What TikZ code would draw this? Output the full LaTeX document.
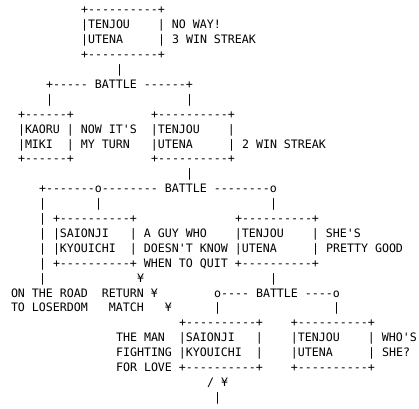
\documentclass[tikz,border=0pt]{standalone}
\usepackage{fontspec}
\usepackage{tikz}
\setmonofont{DejaVu Sans Mono}[Ligatures=TeXOff]
\definecolor{ink}{RGB}{0,0,0}
\newcommand\aafont{\ttfamily\fontsize{11.627pt}{14.9pt}\selectfont\frenchspacing}

\begin{document}
\begin{tikzpicture}[x=7pt,y=-14.9pt,
  every node/.style={anchor=base west,inner sep=0pt,text=ink,font=\aafont}]
  \useasboundingbox (-10.8pt,-1pt) rectangle (408.2pt,-409pt);
  \foreach \c/\t [count=\r] in {
    10/{+----------+},
    10/{|TENJOU~~~~|~NO~WAY!},
    10/{|UTENA~~~~~|~3~WIN~STREAK},
    10/{+----------+},
    15/{|},
    5/{+-----~BATTLE~------+},
    5/{|~~~~~~~~~~~~~~~~~~~|},
    1/{+------+~~~~~~~~~~~+----------+},
    1/{|KAORU~|~NOW~IT'S~~|TENJOU~~~~|},
    1/{|MIKI~~|~MY~TURN~~~|UTENA~~~~~|~2~WIN~STREAK},
    1/{+------+~~~~~~~~~~~+----------+},
    25/{|},
    4/{+-------o--------~BATTLE~--------o},
    4/{|~~~~~~~|~~~~~~~~~~~~~~~~~~~~~~~~|},
    4/{|~+----------+~~~~~~~~~~~~~~+----------+},
    4/{|~|SAIONJI~~~|~A~GUY~WHO~~~~|TENJOU~~~~|~SHE'S},
    4/{|~|KYOUICHI~~|~DOESN'T~KNOW~|UTENA~~~~~|~PRETTY~GOOD},
    4/{|~+----------+~WHEN~TO~QUIT~+----------+},
    4/{|~~~~~~~~~~~~~¥~~~~~~~~~~~~~~~~~~|},
    0/{ON~THE~ROAD~~RETURN~¥~~~~~~~~o----~BATTLE~----o},
    0/{TO~LOSERDOM~~~MATCH~~~¥~~~~~~|~~~~~~~~~~~~~~~~|},
    24/{+----------+~~~~+----------+},
    15/{THE~MAN~~|SAIONJI~~~|~~~~|TENJOU~~~~|~WHO'S},
    15/{FIGHTING~|KYOUICHI~~|~~~~|UTENA~~~~~|~SHE?},
    15/{FOR~LOVE~+----------+~~~~+----------+},
    28/{/~¥},
    29/{|}}
    \node (row\r) at (\c,\r) {\t};
\end{tikzpicture}
\end{document}
